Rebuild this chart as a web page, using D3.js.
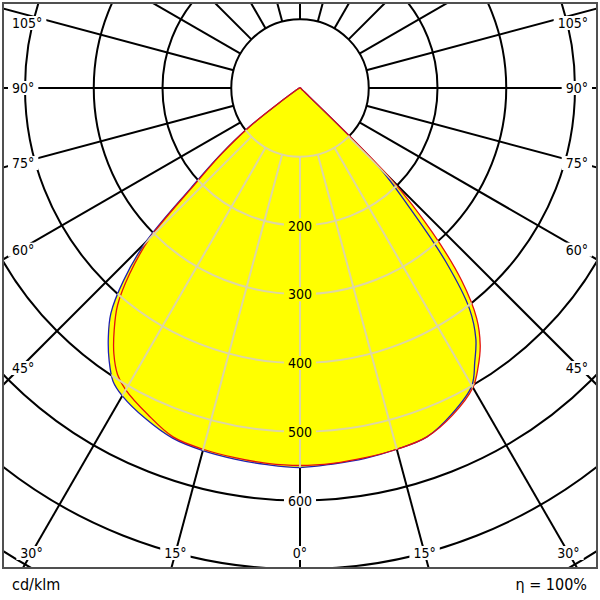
<!DOCTYPE html>
<html>
<head>
<meta charset="utf-8">
<script src="https://cdn.jsdelivr.net/npm/d3@7"></script>
<style>
  body { margin: 0; background: #fff; }
  svg { display: block; font-family: "DejaVu Sans Condensed", "DejaVu Sans", sans-serif; }
</style>
</head>
<body>
<svg id="chart" width="600" height="600"></svg>
<script>
// gamma angles (deg from nadir) and cd/klm per half-plane
const gammas = [0, 5, 10, 15, 20, 25, 30, 32.5, 35, 37.5, 40, 42.5, 45, 47.5, 50, 52.5, 55, 60, 65, 70, 75, 80, 85, 90, 180];
const c0   = [552, 549, 547, 544, 540, 523, 500, 473, 446, 405, 330, 235, 162, 15, 6, 4, 3, 2, 2, 1, 1, 1, 1, 1, 0];
const c180 = [552, 550, 548, 546, 542, 531, 517, 506, 484, 458, 428, 380, 318, 215, 152, 95, 30, 8, 4, 3, 2, 1, 1, 1, 0];
const c90  = [549, 548, 546, 544, 540, 525, 503, 482, 457, 422, 366, 285, 186, 18, 6, 4, 3, 2, 2, 1, 1, 1, 1, 1, 0];
const c270 = [549, 548, 546, 544, 540, 524, 507, 494, 472, 444, 413, 367, 309, 208, 148, 92, 28, 7, 4, 3, 2, 1, 1, 1, 0];

const ringValues = [100, 200, 300, 400, 500, 600, 700, 800, 900, 1000, 1100];
const ringLabels = [200, 300, 400, 500, 600];
const spokeAngles = d3.range(0, 181, 15);
const angleLabels = [0, 15, 30, 45, 60, 75, 90, 105];
const unitText = "cd/klm";
const etaText = "η = 100%";

const cx = 300, cy = 88;
const r = d3.scaleLinear().domain([0, 100]).range([0, 68.75]);
const rad = d => d * Math.PI / 180;

const svg = d3.select('#chart');
const defs = svg.append('defs');
defs.append('clipPath').attr('id', 'frame')
  .append('rect').attr('x', 3).attr('y', 3).attr('width', 594).attr('height', 565);

// closed outline for one C-plane pair (left half, right half)
function planePoints(left, right) {
  let pts = [];
  for (let i = gammas.length - 1; i >= 0; i--) pts.push([Math.PI + rad(gammas[i]), r(left[i])]);
  for (let i = 1; i < gammas.length; i++) pts.push([Math.PI - rad(gammas[i]), r(right[i])]);
  return pts;
}
const outline = d3.lineRadial()
  .angle(d => d[0]).radius(d => d[1])
  .curve(d3.curveCatmullRomClosed.alpha(0.5));
const bluePath = outline(planePoints(c180, c0));
const redPath = outline(planePoints(c270, c90));

const lit = defs.append('clipPath').attr('id', 'lit');
lit.append('path').attr('d', bluePath).attr('transform', `translate(${cx},${cy})`);
lit.append('path').attr('d', redPath).attr('transform', `translate(${cx},${cy})`);

const root = svg.append('g').attr('clip-path', 'url(#frame)');
root.append('rect').attr('x', 0).attr('y', 0).attr('width', 600).attr('height', 600).attr('fill', '#fff');

function drawGrid(g, color) {
  g.selectAll('circle').data(ringValues).join('circle')
    .attr('r', d => r(d)).attr('fill', 'none')
    .attr('stroke', color).attr('stroke-width', 2);
  let spokes = [];
  spokeAngles.forEach(a => {
    spokes.push(Math.PI - rad(a));
    if (a > 0 && a < 180) spokes.push(Math.PI + rad(a));
  });
  g.selectAll('line').data(spokes).join('line')
    .attr('x1', a => r(100) * Math.sin(a)).attr('y1', a => -r(100) * Math.cos(a))
    .attr('x2', a => r(1400) * Math.sin(a)).attr('y2', a => -r(1400) * Math.cos(a))
    .attr('stroke', color).attr('stroke-width', 2);
}

drawGrid(root.append('g').attr('transform', `translate(${cx},${cy})`), '#000');

// yellow lit area
const plot = root.append('g').attr('transform', `translate(${cx},${cy})`);
plot.append('path').attr('d', bluePath).attr('fill', '#ffff00');
plot.append('path').attr('d', redPath).attr('fill', '#ffff00');

// light grid inside lit area
drawGrid(root.append('g').attr('clip-path', 'url(#lit)')
  .append('g').attr('transform', `translate(${cx},${cy})`), '#ddd6a4');

plot.append('path').attr('d', bluePath).attr('fill', 'none').attr('stroke', '#1f1fb4').attr('stroke-width', 1.3);
plot.append('path').attr('d', redPath).attr('fill', 'none').attr('stroke', '#e41010').attr('stroke-width', 1.3);

// labels with background boxes
function boxedLabel(g, x, y, txt, bg, clamp) {
  const t = g.append('text').attr('x', x).attr('y', y)
    .attr('text-anchor', 'middle').attr('dominant-baseline', 'central')
    .attr('font-size', 14).attr('fill', '#000').text(txt);
  let b = t.node().getBBox();
  if (clamp) {
    const w = b.width, h = b.height;
    x = Math.max(12 + w / 2, Math.min(588 - w / 2, x));
    y = Math.max(15 + h / 2, Math.min(561 - h / 2, y));
    t.attr('x', x).attr('y', y);
    b = t.node().getBBox();
  }
  g.insert('rect', () => t.node())
    .attr('x', b.x - 4).attr('y', b.y + 1).attr('width', b.width + 8).attr('height', b.height - 2)
    .attr('fill', bg);
}

const labels = root.append('g');
ringLabels.forEach(v => {
  const inside = v < c0[0];
  boxedLabel(labels, cx, cy + r(v), String(v), inside ? '#ffff00' : '#fff', false);
});

angleLabels.forEach(a => {
  const sides = a === 0 ? [1] : [-1, 1];
  sides.forEach(s => {
    const dx = s * Math.sin(rad(a)), dy = Math.cos(rad(a));
    let t = Infinity;
    if (Math.abs(dx) > 1e-9) t = Math.min(t, dx < 0 ? (cx - 20) / -dx : (580 - cx) / dx);
    if (dy > 1e-9) t = Math.min(t, (553 - cy) / dy);
    if (dy < -1e-9) t = Math.min(t, (cy - 13) / -dy);
    boxedLabel(labels, cx + t * dx, cy + t * dy, `${a}°`, '#fff', true);
  });
});

svg.append('rect').attr('x', 3).attr('y', 3).attr('width', 594).attr('height', 565)
  .attr('fill', 'none').attr('stroke', '#505050').attr('stroke-width', 2);

svg.append('text').attr('x', 12).attr('y', 590).attr('font-size', 16).text(unitText);
svg.append('text').attr('x', 587).attr('y', 590).attr('font-size', 16)
  .attr('text-anchor', 'end').text(etaText);
</script>
</body>
</html>
